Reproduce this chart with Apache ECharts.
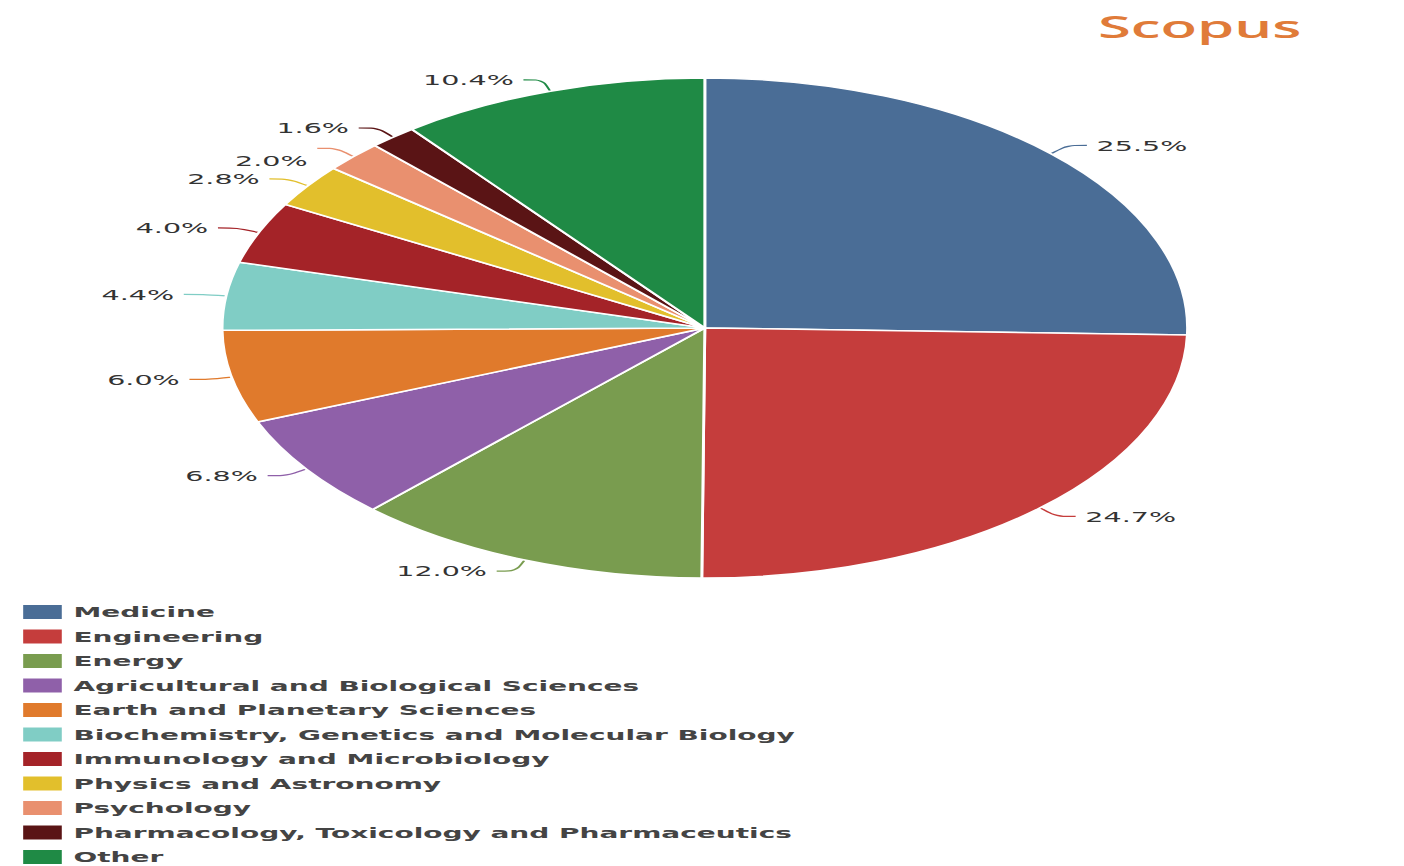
<!DOCTYPE html>
<html>
<head>
<meta charset="utf-8">
<script src="https://cdn.jsdelivr.net/npm/echarts@6/dist/echarts.min.js"></script>
<style>
html,body{margin:0;padding:0;background:#fff;overflow:hidden;}
#wrap{width:1404px;height:866px;overflow:hidden;position:relative;}
#chart{width:727px;height:866px;transform:scaleX(1.931);transform-origin:0 0;position:absolute;left:0;top:0;}
</style>
</head>
<body>
<div id="wrap"><div id="chart"></div></div>
<script>
const categories = ["Medicine","Engineering","Energy","Agricultural and Biological Sciences","Earth and Planetary Sciences","Biochemistry, Genetics and Molecular Biology","Immunology and Microbiology","Physics and Astronomy","Psychology","Pharmacology, Toxicology and Pharmaceutics","Other"];
const shares = [25.5,24.7,12.0,6.8,6.0,4.4,4.0,2.8,2.0,1.6,10.4];
const colors = ["#4a6d96","#c53d3c","#799c4f","#8f60a9","#e07a2c","#80cdc5","#a42328","#e2bf2c","#e9906f","#5a1415","#1f8a45"];

const chart = echarts.init(document.getElementById('chart'), null, {renderer:'svg'});
chart.setOption({
  animation:false,
  title:{text:'Scopus', right:48, top:5,
    textStyle:{fontFamily:'Open Sans', fontWeight:600, fontSize:31, color:'#e07b39'}},
  legend:{orient:'vertical', left:5, top:598, height:320, padding:[5,5,0,5], itemWidth:22, itemHeight:16, itemGap:6.5,
    icon:'rect', data:categories,
    textStyle:{fontFamily:'DejaVu Sans', fontWeight:'bold', fontSize:14.5, color:'#444'}},
  series:[{
    type:'pie', center:[365,328], radius:250, startAngle:90, clockwise:true,
    itemStyle:{borderColor:'#fff', borderWidth:1.5},
    label:{formatter:p=>p.value.toFixed(1)+'%', fontFamily:'DejaVu Sans', fontSize:14.8, color:'#333'},
    labelLine:{length:12, length2:10, smooth:0.3, lineStyle:{width:1.2}},
    labelLayout:{moveOverlap:'shiftY'},
    data:categories.map((c,i)=>({name:c, value:shares[i], itemStyle:{color:colors[i]}}))
  }]
});
</script>
</body>
</html>
